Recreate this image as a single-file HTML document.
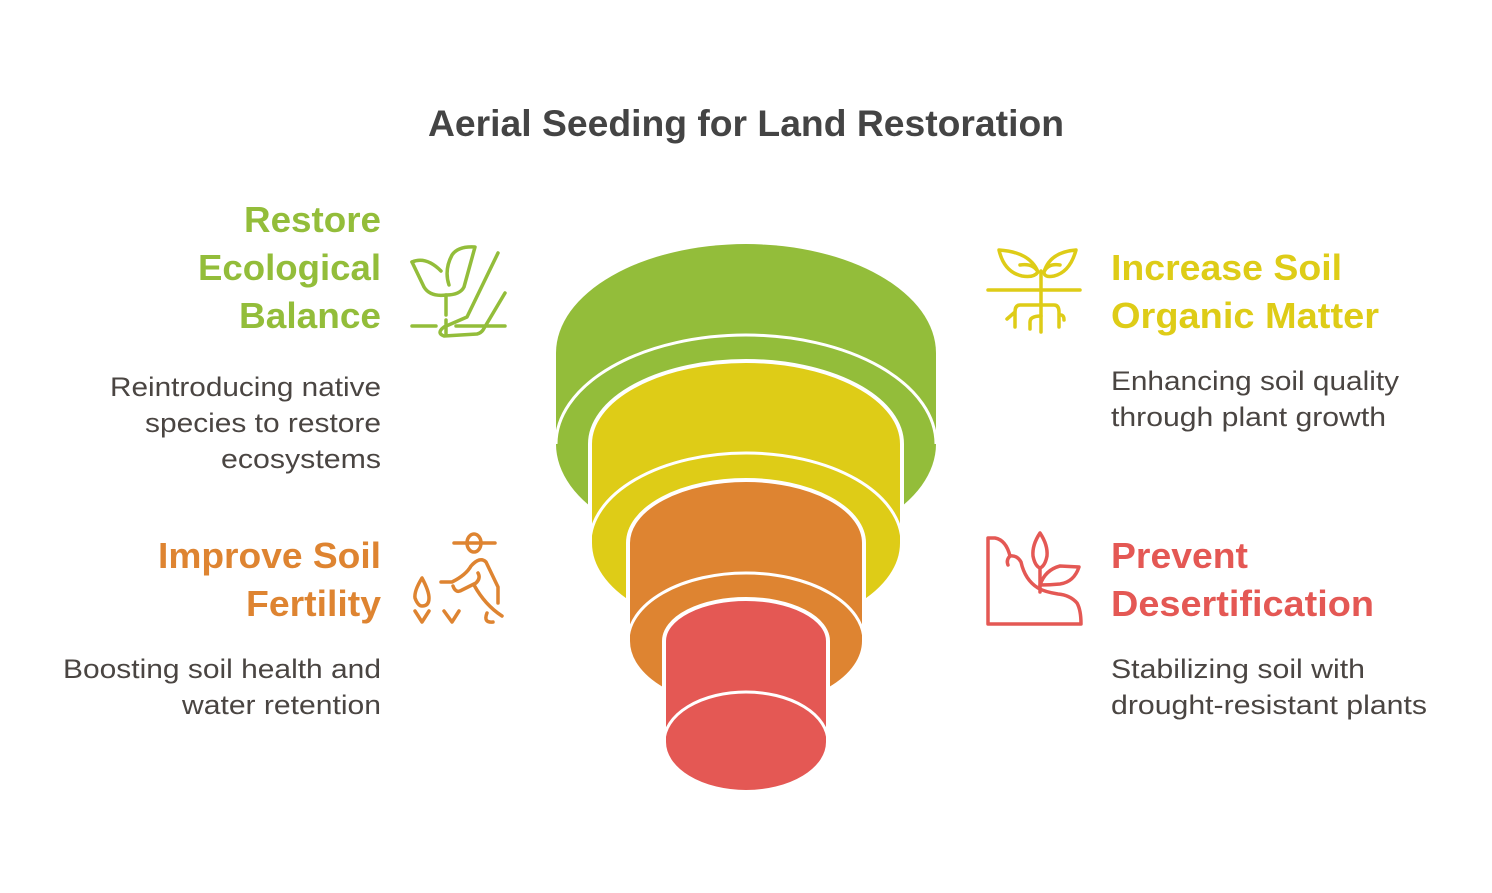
<!DOCTYPE html>
<html><head><meta charset="utf-8"><style>
body{margin:0;background:#fff;width:1492px;height:893px;overflow:hidden;font-family:"Liberation Sans",sans-serif}
svg{position:absolute;left:0;top:0}
</style></head><body>
<svg width="1492" height="893" viewBox="0 0 1492 893" font-family="Liberation Sans, sans-serif">
<text x="428" y="136" font-size="37" font-weight="bold" fill="#444" textLength="636" lengthAdjust="spacingAndGlyphs">Aerial Seeding for Land Restoration</text>

<!-- funnel -->
<path d="M556,353 A190,109 0 0 1 936,353 L936,444 A190,109 0 0 1 556,444 Z" fill="#93BD3A"/>
<path d="M556,444 A190,109 0 0 1 936,444" fill="none" stroke="#fff" stroke-width="3"/>
<path d="M590,444 A156,83 0 0 1 902,444 L902,543 A156,90 0 0 1 590,543 Z" fill="#DECC17" stroke="#fff" stroke-width="4"/>
<path d="M590,543 A156,90 0 0 1 902,543" fill="none" stroke="#fff" stroke-width="3"/>
<path d="M628,543 A118,63 0 0 1 864,543 L864,641 A118,68 0 0 1 628,641 Z" fill="#DE8431" stroke="#fff" stroke-width="4"/>
<path d="M628,641 A118,68 0 0 1 864,641" fill="none" stroke="#fff" stroke-width="3"/>
<path d="M664,641 A82,42 0 0 1 828,641 L828,742 A82,50 0 0 1 664,742 Z" fill="#E45854" stroke="#fff" stroke-width="4"/>
<path d="M664,742 A82,50 0 0 1 828,742" fill="none" stroke="#fff" stroke-width="3"/>

<!-- green icon -->
<g fill="none" stroke="#93BD3A" stroke-width="3.5" stroke-linecap="round" stroke-linejoin="round">
<path d="M412,262 Q426,256 441,271"/>
<path d="M412,262 L424,287 Q430,297 446,295 L446,315"/>
<path d="M446,295 Q460,295 464,287 L475,247 Q458,246 452,255 Q444,270 449,285"/>
<path d="M498,253 L467,317 L444,327 Q436,333 444,336 L477,334 Q481,333 483,330 L505,293"/>
<path d="M412,326 L436,326 M456,326 L505,326 M446,320 L446,334"/>
</g>
<!-- yellow icon -->
<g fill="none" stroke="#DECC17" stroke-width="3.5" stroke-linecap="round" stroke-linejoin="round">
<path d="M1041,271 L1041,332"/>
<path d="M988,290 L1080,290"/>
<path d="M1038,272 Q1030,252 999,250 Q1004,272 1022,276 Q1034,278 1038,272 Q1033,263 1020,265"/>
<path d="M1044,272 Q1050,252 1076,250 Q1070,272 1054,276 Q1044,278 1044,272 Q1048,263 1060,265"/>
<path d="M1041,305 L1020,305 Q1015,305 1015,312 L1015,327 M1015,312 L1007,319"/>
<path d="M1041,305 L1054,305 Q1059,305 1059,312 L1059,327 M1059,315 Q1064,314 1064,320"/>
<path d="M1041,316 Q1030,316 1030,322 L1030,329"/>
</g>
<!-- orange icon -->
<g fill="none" stroke="#DE8431" stroke-width="3.5" stroke-linecap="round" stroke-linejoin="round">
<ellipse cx="474" cy="543" rx="7" ry="9"/>
<path d="M454,543 L495,543"/>
<path d="M441,582 L452,582 Q466,575 471,566 Q480,556 486,562 L498,587 L498,603"/>
<path d="M453,586 Q456,594 462,590 L476,583 Q481,578 478,573"/>
<path d="M474,585 Q485,605 502,616"/>
<path d="M487,613 Q483,623 493,622"/>
<path d="M422,578 Q414,591 415,598 Q418,606 422,606 Q429,606 429,598 Q429,591 422,578 Z"/>
<path d="M415,611 L422,622 L429,611 M444,611 L452,622 L459,611"/>
</g>
<!-- red icon -->
<g fill="none" stroke="#E45854" stroke-width="3.5" stroke-linecap="round" stroke-linejoin="round">
<path d="M988,624 L988,538 L995,538 Q1006,540 1010,556 Q1017,555 1021,562 Q1025,580 1038,588 Q1045,592 1058,594 Q1070,595 1077,603 Q1081,610 1081,624 Z"/>
<path d="M1010,556 Q1006,560 1008,565"/>
<path d="M1040,533 Q1032,545 1033,556 Q1035,566 1040,568 Q1045,566 1047,556 Q1048,545 1040,533 Z"/>
<path d="M1040,568 L1040,592"/>
<path d="M1040,585 Q1045,570 1060,566 L1079,567 Q1074,582 1060,584 Q1050,585 1040,585"/>
</g>

<g font-weight="bold" font-size="36" lengthAdjust="spacingAndGlyphs">
<text x="244" y="232" fill="#93BD3A" textLength="137" lengthAdjust="spacingAndGlyphs">Restore</text>
<text x="198" y="280" fill="#93BD3A" textLength="183" lengthAdjust="spacingAndGlyphs">Ecological</text>
<text x="239" y="328" fill="#93BD3A" textLength="142" lengthAdjust="spacingAndGlyphs">Balance</text>
<text x="1111" y="280" fill="#DECC17" textLength="231" lengthAdjust="spacingAndGlyphs">Increase Soil</text>
<text x="1111" y="328" fill="#DECC17" textLength="268" lengthAdjust="spacingAndGlyphs">Organic Matter</text>
<text x="158" y="568" fill="#DE8431" textLength="223" lengthAdjust="spacingAndGlyphs">Improve Soil</text>
<text x="246" y="616" fill="#DE8431" textLength="135" lengthAdjust="spacingAndGlyphs">Fertility</text>
<text x="1111" y="568" fill="#E45854" textLength="137" lengthAdjust="spacingAndGlyphs">Prevent</text>
<text x="1111" y="616" fill="#E45854" textLength="263" lengthAdjust="spacingAndGlyphs">Desertification</text>
</g>
<g font-size="27" fill="#4a4542">
<text x="110" y="396" textLength="271" lengthAdjust="spacingAndGlyphs">Reintroducing native</text>
<text x="145" y="432" textLength="236" lengthAdjust="spacingAndGlyphs">species to restore</text>
<text x="221" y="468" textLength="160" lengthAdjust="spacingAndGlyphs">ecosystems</text>
<text x="1111" y="390" textLength="288" lengthAdjust="spacingAndGlyphs">Enhancing soil quality</text>
<text x="1111" y="426" textLength="275" lengthAdjust="spacingAndGlyphs">through plant growth</text>
<text x="63" y="678" textLength="318" lengthAdjust="spacingAndGlyphs">Boosting soil health and</text>
<text x="182" y="714" textLength="199" lengthAdjust="spacingAndGlyphs">water retention</text>
<text x="1111" y="678" textLength="254" lengthAdjust="spacingAndGlyphs">Stabilizing soil with</text>
<text x="1111" y="714" textLength="316" lengthAdjust="spacingAndGlyphs">drought-resistant plants</text>
</g>
</svg>
</body></html>
